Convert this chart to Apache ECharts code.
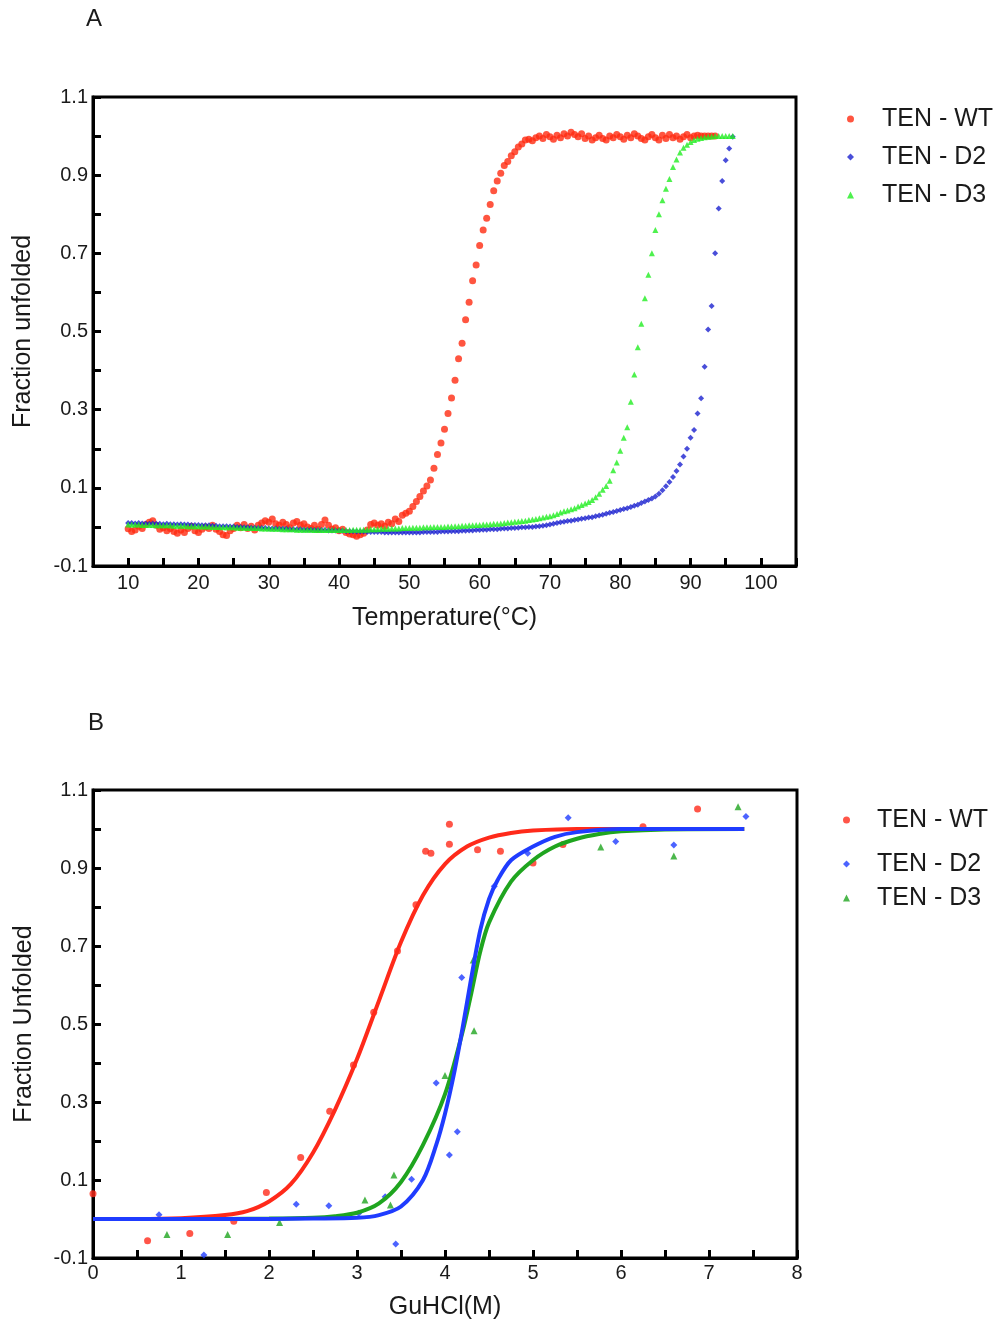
<!DOCTYPE html>
<html>
<head>
<meta charset="utf-8">
<script src="https://cdn.jsdelivr.net/npm/echarts@6/dist/echarts.min.js"></script>
<style>
    html, body { margin: 0; padding: 0; background: #fff; }
    #chart { width: 999px; height: 1325px; }
</style>
</head>
<body>
<div id="chart"></div>
<script>
// ---- panel A : thermal melt, one reading every 0.5 degC ----
let tempC = [
    10, 10.5, 11, 11.5, 12, 12.5, 13, 13.5, 14, 14.5,
    15, 15.5, 16, 16.5, 17, 17.5, 18, 18.5, 19, 19.5,
    20, 20.5, 21, 21.5, 22, 22.5, 23, 23.5, 24, 24.5,
    25, 25.5, 26, 26.5, 27, 27.5, 28, 28.5, 29, 29.5,
    30, 30.5, 31, 31.5, 32, 32.5, 33, 33.5, 34, 34.5,
    35, 35.5, 36, 36.5, 37, 37.5, 38, 38.5, 39, 39.5,
    40, 40.5, 41, 41.5, 42, 42.5, 43, 43.5, 44, 44.5,
    45, 45.5, 46, 46.5, 47, 47.5, 48, 48.5, 49, 49.5,
    50, 50.5, 51, 51.5, 52, 52.5, 53, 53.5, 54, 54.5,
    55, 55.5, 56, 56.5, 57, 57.5, 58, 58.5, 59, 59.5,
    60, 60.5, 61, 61.5, 62, 62.5, 63, 63.5, 64, 64.5,
    65, 65.5, 66, 66.5, 67, 67.5, 68, 68.5, 69, 69.5,
    70, 70.5, 71, 71.5, 72, 72.5, 73, 73.5, 74, 74.5,
    75, 75.5, 76, 76.5, 77, 77.5, 78, 78.5, 79, 79.5,
    80, 80.5, 81, 81.5, 82, 82.5, 83, 83.5, 84, 84.5,
    85, 85.5, 86, 86.5, 87, 87.5, 88, 88.5, 89, 89.5,
    90, 90.5, 91, 91.5, 92, 92.5, 93, 93.5, 94, 94.5,
    95, 95.5, 96
]

// WT stops at 93.5
let wtMelt = [
    -0.005, -0.012, -0.008, 0.002, -0.004, 0.006, 0.012, 0.016, 0.004, -0.006,
    -0.002, -0.010, -0.004, -0.012, -0.016, -0.008, -0.014, -0.004, 0.002, -0.010,
    -0.014, -0.006, 0.000, -0.004, 0.004, -0.006, -0.012, -0.020, -0.022, -0.010,
    -0.004, 0.004, -0.002, 0.006, -0.004, 0.002, -0.008, 0.004, 0.010, 0.016,
    0.012, 0.020, 0.008, 0.004, 0.012, 0.006, -0.002, 0.010, 0.014, 0.004,
    0.008, 0.000, -0.004, 0.004, -0.006, 0.006, 0.018, 0.004, -0.006, -0.002,
    -0.010, -0.006, -0.014, -0.018, -0.020, -0.024, -0.020, -0.016, -0.008, 0.006,
    0.010, 0.004, 0.008, 0.002, 0.012, 0.008, 0.020, 0.014, 0.030, 0.035,
    0.040, 0.052, 0.065, 0.078, 0.092, 0.105, 0.120, 0.150, 0.185, 0.215,
    0.250, 0.290, 0.330, 0.375, 0.430, 0.470, 0.530, 0.575, 0.630, 0.670,
    0.720, 0.760, 0.790, 0.825, 0.860, 0.885, 0.905, 0.925, 0.935, 0.950,
    0.960, 0.972, 0.980, 0.990, 0.992, 0.988, 0.996, 1.000, 0.994, 1.004,
    0.998, 0.992, 1.002, 0.996, 1.006, 1.000, 1.010, 1.004, 0.998, 1.006,
    0.994, 1.000, 0.990, 0.996, 1.002, 0.994, 0.990, 1.000, 0.996, 1.004,
    0.998, 0.992, 1.002, 0.996, 1.006, 1.000, 0.994, 0.990, 0.998, 1.004,
    0.996, 0.990, 1.002, 0.994, 1.004, 0.996, 1.000, 0.992, 0.998, 1.004,
    0.996, 1.000, 1.002, 1.000, 1.000, 1.000, 1.000, 1.000
]

let d2Melt = [
    0.010, 0.010, 0.009, 0.010, 0.009, 0.009, 0.008, 0.009, 0.008, 0.008,
    0.007, 0.008, 0.007, 0.007, 0.006, 0.007, 0.006, 0.006, 0.005, 0.005,
    0.005, 0.004, 0.004, 0.004, 0.003, 0.003, 0.002, 0.002, 0.002, 0.001,
    0.001, 0.000, 0.000, -0.001, -0.001, -0.002, -0.002, -0.003, -0.003, -0.003,
    -0.004, -0.004, -0.004, -0.005, -0.005, -0.005, -0.006, -0.006, -0.006, -0.006,
    -0.007, -0.007, -0.007, -0.008, -0.008, -0.008, -0.008, -0.009, -0.009, -0.009,
    -0.010, -0.010, -0.011, -0.011, -0.011, -0.012, -0.012, -0.012, -0.013, -0.013,
    -0.013, -0.013, -0.013, -0.014, -0.014, -0.014, -0.014, -0.014, -0.014, -0.014,
    -0.014, -0.014, -0.014, -0.014, -0.013, -0.013, -0.013, -0.013, -0.013, -0.012,
    -0.012, -0.012, -0.011, -0.011, -0.011, -0.010, -0.010, -0.009, -0.009, -0.008,
    -0.008, -0.007, -0.007, -0.006, -0.006, -0.006, -0.005, -0.004, -0.004, -0.003,
    -0.003, -0.002, -0.001, -0.001, 0.000, 0.000, 0.001, 0.002, 0.003, 0.004,
    0.006, 0.008, 0.010, 0.012, 0.013, 0.015, 0.016, 0.018, 0.019, 0.021,
    0.022, 0.024, 0.025, 0.027, 0.029, 0.031, 0.034, 0.036, 0.038, 0.041,
    0.043, 0.046, 0.048, 0.051, 0.054, 0.057, 0.061, 0.065, 0.069, 0.073,
    0.078, 0.085, 0.094, 0.104, 0.115, 0.128, 0.143, 0.160, 0.180, 0.200,
    0.228, 0.248, 0.290, 0.329, 0.410, 0.505, 0.565, 0.700, 0.815, 0.885,
    0.938, 0.968, 0.998
]

let d3Melt = [
    0.006, 0.006, 0.006, 0.006, 0.005, 0.005, 0.005, 0.005, 0.004, 0.004,
    0.004, 0.004, 0.004, 0.003, 0.003, 0.003, 0.003, 0.002, 0.002, 0.002,
    0.002, 0.001, 0.001, 0.001, 0.000, 0.000, 0.000, -0.001, -0.001, -0.001,
    -0.001, -0.002, -0.002, -0.002, -0.003, -0.003, -0.003, -0.003, -0.004, -0.004,
    -0.004, -0.005, -0.005, -0.005, -0.006, -0.006, -0.006, -0.006, -0.007, -0.007,
    -0.007, -0.007, -0.007, -0.008, -0.008, -0.008, -0.008, -0.008, -0.008, -0.008,
    -0.008, -0.008, -0.008, -0.008, -0.007, -0.007, -0.007, -0.007, -0.007, -0.006,
    -0.006, -0.006, -0.005, -0.005, -0.005, -0.004, -0.004, -0.004, -0.003, -0.003,
    -0.003, -0.002, -0.002, -0.002, -0.001, -0.001, -0.001, 0.000, 0.000, 0.000,
    0.000, 0.001, 0.001, 0.002, 0.002, 0.003, 0.003, 0.004, 0.004, 0.005,
    0.005, 0.006, 0.006, 0.007, 0.008, 0.008, 0.009, 0.010, 0.011, 0.012,
    0.013, 0.014, 0.015, 0.016, 0.018, 0.019, 0.020, 0.022, 0.024, 0.026,
    0.027, 0.030, 0.033, 0.037, 0.040, 0.042, 0.045, 0.048, 0.052, 0.056,
    0.060, 0.064, 0.069, 0.076, 0.085, 0.095, 0.105, 0.118, 0.145, 0.165,
    0.195, 0.228, 0.255, 0.320, 0.390, 0.460, 0.520, 0.585, 0.645, 0.700,
    0.760, 0.800, 0.836, 0.865, 0.890, 0.921, 0.940, 0.958, 0.970, 0.978,
    0.985, 0.990, 0.993, 0.995, 0.997, 0.998, 0.999, 1.000, 1.000, 1.000,
    1.000, 1.000, 1.000
]

// ---- panel B : GuHCl titration, measured points ----
let wtConc = [0, 0.62, 1.10, 1.60, 1.97, 2.36, 2.69, 2.96, 3.19, 3.46, 3.67, 3.78, 3.84, 4.05, 4.05, 4.37, 4.63, 5.00, 5.34, 6.25, 6.87]
let wtFrac = [0.065, -0.056, -0.037, -0.006, 0.068, 0.158, 0.276, 0.395, 0.530, 0.687, 0.806, 0.943, 0.938, 1.012, 0.961, 0.947, 0.943, 0.913, 0.960, 1.006, 1.051]

let d2Conc = [0.75, 1.26, 2.31, 2.68, 3.02, 3.32, 3.44, 3.62, 3.90, 4.05, 4.14, 4.19, 4.56, 4.94, 5.40, 5.94, 6.60, 7.42]
let d2Frac = [0.011, -0.092, 0.038, 0.034, 0.015, 0.057, -0.064, 0.102, 0.349, 0.164, 0.224, 0.619, 0.853, 0.938, 1.029, 0.968, 0.959, 1.032]

let d3Conc = [0.84, 1.53, 2.12, 3.09, 3.38, 3.42, 4.00, 4.33, 4.32, 5.77, 6.60, 7.33]
let d3Frac = [-0.040, -0.040, -0.009, 0.049, 0.036, 0.113, 0.368, 0.483, 0.664, 0.954, 0.931, 1.057]

// fitted curves
let wtFitX = [0, 0.5, 1.0, 1.5, 1.75, 2.0, 2.25, 2.5, 2.75, 3.0, 3.25, 3.5, 3.75, 4.0, 4.25, 4.5, 4.75, 5.0, 5.5, 6.0, 7.4]
let wtFitY = [0, 0, 0.002, 0.010, 0.020, 0.045, 0.090, 0.170, 0.280, 0.410, 0.560, 0.710, 0.830, 0.910, 0.955, 0.978, 0.990, 0.996, 1.0, 1.0, 1.0]

let d2FitX = [0, 1, 2, 2.5, 3.0, 3.25, 3.5, 3.75, 3.9, 4.0, 4.1, 4.2, 4.3, 4.4, 4.5, 4.6, 4.75, 5.0, 5.25, 5.5, 6.0, 7.4]
let d2FitY = [0, 0, 0, 0.001, 0.003, 0.010, 0.032, 0.100, 0.190, 0.270, 0.370, 0.490, 0.620, 0.740, 0.820, 0.870, 0.920, 0.955, 0.980, 0.992, 1.0, 1.0]

let d3FitX = [0, 1, 2, 2.5, 2.75, 3.0, 3.25, 3.5, 3.75, 4.0, 4.2, 4.3, 4.4, 4.5, 4.75, 5.0, 5.25, 5.5, 5.75, 6.0, 6.5, 7.4]
let d3FitY = [0, 0, 0.001, 0.003, 0.007, 0.016, 0.040, 0.095, 0.190, 0.320, 0.480, 0.580, 0.685, 0.760, 0.865, 0.920, 0.955, 0.975, 0.987, 0.994, 0.999, 1.0]

let seriesNames = ['TEN - WT', 'TEN - D2', 'TEN - D3']
let legendIcons = ['circle', 'diamond', 'triangle']

function pairs(xs, ys) {
    let ret = []
    for (let i = 0; i < ys.length; i++) {
        ret.push([xs[i], ys[i]])
    }
    return ret
}

let font = '"Liberation Sans", Arial, sans-serif'
let colA = ['#ff2a10', '#1c22d0', '#22ee22']
let colB = ['#ff2a1a', '#1f3cff', '#1fa51f']
let textCol = '#1a1a1a'

function yAxisFor(gridIndex, name, gap) {
    return {
        type: 'value',
        gridIndex: gridIndex,
        min: -0.1,
        max: 1.1,
        interval: 0.1,
        name: name,
        nameLocation: 'middle',
        nameGap: gap,
        nameTextStyle: { fontFamily: font, fontSize: 25, color: textCol },
        axisLine: { show: true, lineStyle: { color: '#000', width: 3 } },
        axisTick: { inside: true, length: 8, lineStyle: { color: '#000', width: 3 } },
        axisLabel: {
            fontFamily: font, fontSize: 20, color: textCol, margin: 5,
            formatter: function (v) {
                let k = Math.round(v * 10)
                return Math.abs(k % 2) === 1 ? (k / 10).toFixed(1) : ''
            }
        },
        splitLine: { show: false }
    }
}

function legendItem(i, cols) {
    return { name: seriesNames[i], icon: legendIcons[i], itemStyle: { color: cols[i] } }
}

let legendText = { fontFamily: font, fontSize: 25, color: textCol, lineHeight: 28 }

// panel B legend rows are not evenly spaced, so one legend per row
let legendB = [806, 850, 884].map(function (top, i) {
    return {
        orient: 'vertical', left: 843, top: top, padding: 0,
        itemWidth: 7, itemHeight: 7,
        textStyle: Object.assign({ padding: [0, 0, 0, 22] }, legendText),
        data: [legendItem(i, colB)]
    }
})

let chart = echarts.init(document.getElementById('chart'))

let option = {
    animation: false,
    backgroundColor: '#fff',
    title: [
        { text: 'A', left: 86, top: 7, padding: 0, textStyle: { fontFamily: font, fontSize: 24, fontWeight: 'normal', color: textCol } },
        { text: 'B', left: 88, top: 711, padding: 0, textStyle: { fontFamily: font, fontSize: 24, fontWeight: 'normal', color: textCol } }
    ],
    legend: [
        {
            orient: 'vertical', left: 847, top: 105, padding: 0,
            itemWidth: 7, itemHeight: 7, itemGap: 10,
            textStyle: Object.assign({ padding: [0, 0, 0, 23] }, legendText),
            data: [legendItem(0, colA), legendItem(1, colA), legendItem(2, colA)]
        }
    ].concat(legendB),
    grid: [
        { left: 93, top: 97, width: 703, height: 469, show: true, borderColor: '#000', borderWidth: 3, backgroundColor: 'transparent' },
        { left: 93, top: 790, width: 704, height: 468, show: true, borderColor: '#000', borderWidth: 3, backgroundColor: 'transparent' }
    ],
    xAxis: [
        {
            type: 'value', gridIndex: 0, min: 5, max: 105, interval: 5,
            name: 'Temperature(°C)', nameLocation: 'middle', nameGap: 40,
            nameTextStyle: { fontFamily: font, fontSize: 25, color: textCol },
            axisLine: { show: true, onZero: false, lineStyle: { color: '#000', width: 3 } },
            axisTick: { inside: true, length: 8, lineStyle: { color: '#000', width: 3 } },
            axisLabel: {
                fontFamily: font, fontSize: 20, color: textCol, margin: 7,
                formatter: function (v) { return (v % 10 === 0 && v >= 10 && v <= 100) ? String(v) : '' }
            },
            splitLine: { show: false }
        },
        {
            type: 'value', gridIndex: 1, min: 0, max: 8, interval: 0.5,
            name: 'GuHCl(M)', nameLocation: 'middle', nameGap: 37,
            nameTextStyle: { fontFamily: font, fontSize: 25, color: textCol },
            axisLine: { show: true, onZero: false, lineStyle: { color: '#000', width: 3 } },
            axisTick: { inside: true, length: 8, lineStyle: { color: '#000', width: 3 } },
            axisLabel: {
                fontFamily: font, fontSize: 20, color: textCol, margin: 5,
                formatter: function (v) { return Number.isInteger(v) ? String(v) : '' }
            },
            splitLine: { show: false }
        }
    ],
    yAxis: [
        yAxisFor(0, 'Fraction unfolded', 57),
        yAxisFor(1, 'Fraction Unfolded', 56)
    ],
    series: [
        // panel A
        { name: seriesNames[0], type: 'scatter', xAxisIndex: 0, yAxisIndex: 0, symbol: 'circle', symbolSize: 7,
          itemStyle: { color: colA[0] }, data: pairs(tempC, wtMelt) },
        { name: seriesNames[1], type: 'scatter', xAxisIndex: 0, yAxisIndex: 0, symbol: 'diamond', symbolSize: 6,
          itemStyle: { color: colA[1] }, data: pairs(tempC, d2Melt) },
        { name: seriesNames[2], type: 'scatter', xAxisIndex: 0, yAxisIndex: 0, symbol: 'triangle', symbolSize: 6,
          itemStyle: { color: colA[2] }, data: pairs(tempC, d3Melt) },
        // panel B fits
        { name: 'WT fit', type: 'line', xAxisIndex: 1, yAxisIndex: 1, smooth: 0.3, showSymbol: false,
          lineStyle: { color: colB[0], width: 4 }, data: pairs(wtFitX, wtFitY) },
        { name: 'D3 fit', type: 'line', xAxisIndex: 1, yAxisIndex: 1, smooth: 0.3, showSymbol: false,
          lineStyle: { color: colB[2], width: 4 }, data: pairs(d3FitX, d3FitY) },
        { name: 'D2 fit', type: 'line', xAxisIndex: 1, yAxisIndex: 1, smooth: 0.3, showSymbol: false,
          lineStyle: { color: colB[1], width: 4 }, data: pairs(d2FitX, d2FitY) },
        // panel B points
        { name: seriesNames[0], type: 'scatter', xAxisIndex: 1, yAxisIndex: 1, symbol: 'circle', symbolSize: 7,
          itemStyle: { color: colB[0] }, data: pairs(wtConc, wtFrac) },
        { name: seriesNames[1], type: 'scatter', xAxisIndex: 1, yAxisIndex: 1, symbol: 'diamond', symbolSize: 7,
          itemStyle: { color: colB[1] }, data: pairs(d2Conc, d2Frac) },
        { name: seriesNames[2], type: 'scatter', xAxisIndex: 1, yAxisIndex: 1, symbol: 'triangle', symbolSize: 7,
          itemStyle: { color: colB[2] }, data: pairs(d3Conc, d3Frac) }
    ]
}

chart.setOption(option)
</script>
</body>
</html>
